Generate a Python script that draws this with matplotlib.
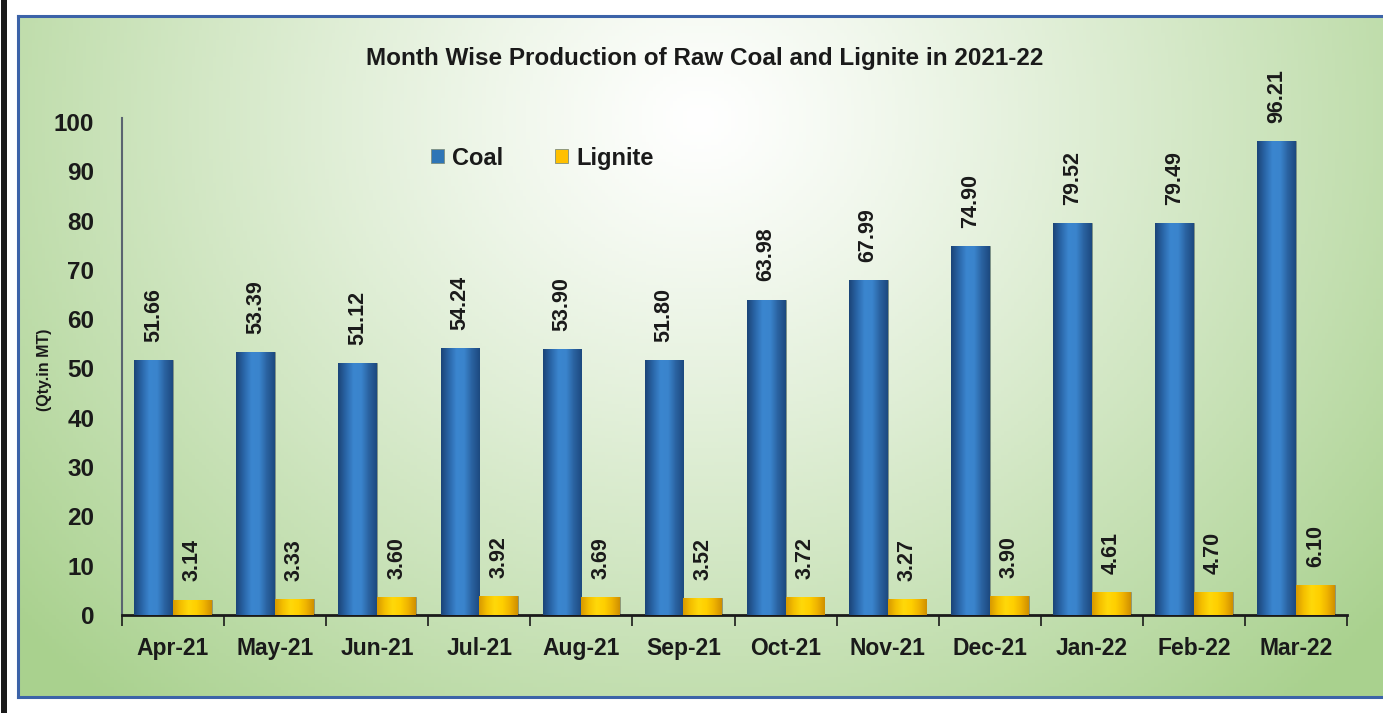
import numpy as np
import matplotlib
matplotlib.use("Agg")
import matplotlib.pyplot as plt
from matplotlib.colors import LinearSegmentedColormap, to_rgb
from matplotlib.patches import Rectangle

plt.rcParams['font.family'] = ['Liberation Sans', 'DejaVu Sans']
plt.rcParams['font.weight'] = 'bold'

months = ["Apr-21", "May-21", "Jun-21", "Jul-21", "Aug-21", "Sep-21",
          "Oct-21", "Nov-21", "Dec-21", "Jan-22", "Feb-22", "Mar-22"]
coal = [51.66, 53.39, 51.12, 54.24, 53.90, 51.80, 63.98, 67.99, 74.90, 79.52, 79.49, 96.21]
lignite = [3.14, 3.33, 3.60, 3.92, 3.69, 3.52, 3.72, 3.27, 3.90, 4.61, 4.70, 6.10]
y_ticks = [0, 10, 20, 30, 40, 50, 60, 70, 80, 90, 100]

W, H = 1383, 713
fig = plt.figure(figsize=(W / 100, H / 100), dpi=100)
fig.patch.set_facecolor("white")

# black strip on the far left
fig.patches.append(Rectangle((1 / W, 0), 6 / W, 1, transform=fig.transFigure,
                             facecolor="#1a1a1a", edgecolor="none", zorder=0))

# framed box with radial green gradient
bx0, by0, bx1, by1 = 18 / W, 1 - 697 / H, 1.0, 1 - 16 / H
bg = fig.add_axes([bx0, by0, bx1 - bx0, by1 - by0], zorder=0)
nx, ny = 400, 200
xx, yy = np.meshgrid(np.linspace(0, 1, nx), np.linspace(0, 1, ny))
r = np.sqrt(((xx - 0.50) / 0.66) ** 2 + ((yy - 0.15) / 1.15) ** 2)
r = np.clip(r, 0, 1) ** 1.15
c_in = np.array(to_rgb("#ffffff"))
c_out = np.array(to_rgb("#a9d18e"))
img = c_in[None, None, :] * (1 - r[..., None]) + c_out[None, None, :] * r[..., None]
bg.imshow(img, aspect="auto", extent=[0, 1, 1, 0], origin="upper")
bg.set_xlim(0, 1)
bg.set_ylim(1, 0)
bg.set_xticks([])
bg.set_yticks([])
for s in bg.spines.values():
    s.set_color("#3c63a8")
    s.set_linewidth(2.2)
bg.spines["right"].set_visible(False)

ax = fig.add_axes([122 / W, 1 - 615 / H, (1347 - 122) / W, (615 - 118) / H], zorder=1)
ax.patch.set_alpha(0)

x = np.arange(len(months))
w = 0.38
b1 = ax.bar(x - w / 2, coal, w, color="#2e75b6", label="Coal", zorder=2)
b2 = ax.bar(x + w / 2, lignite, w, color="#ffc000", label="Lignite", zorder=2)

coal_cmap = LinearSegmentedColormap.from_list(
    "coal", ["#1b4478", "#2a66a8", "#3b86cf", "#3a84cc", "#2a62a0", "#1d4a80"])
lig_cmap = LinearSegmentedColormap.from_list(
    "lig", ["#d89a00", "#f5c000", "#ffd80a", "#ffd000", "#f0b400", "#d09000"])
grad = np.linspace(0, 1, 64).reshape(1, -1)
for bars, cm in ((b1, coal_cmap), (b2, lig_cmap)):
    for p in bars:
        x0, y0 = p.get_x(), p.get_y()
        im = ax.imshow(grad, cmap=cm, aspect="auto", zorder=3,
                       extent=[x0, x0 + p.get_width(), y0, y0 + p.get_height()])
        im.set_clip_path(p)
        p.set_edgecolor("#7f8f7f")
        p.set_linewidth(0.6)

for bars, vals in ((b1, coal), (b2, lignite)):
    for p, v in zip(bars, vals):
        ax.annotate(f"{v:.2f}", (p.get_x() + p.get_width() / 2, p.get_height()),
                    xytext=(0, 13), textcoords="offset points", rotation=90,
                    ha="center", va="bottom", fontsize=15.5, fontweight="bold",
                    color="#1a1a1a", zorder=4)

ax.set_xlim(-0.5, len(months) - 0.5)
ax.set_ylim(0, 100.8)
ax.set_yticks(y_ticks)
ax.set_yticklabels([str(t) for t in y_ticks], fontsize=17.5, fontweight="bold", color="#1a1a1a")
ax.tick_params(axis="y", length=0, pad=20)
ax.set_xticks(np.arange(-0.5, len(months), 1.0))
ax.set_xticklabels([])
ax.set_xticks(x, minor=True)
ax.set_xticklabels(months, minor=True, fontsize=16.5, fontweight="bold", color="#1a1a1a")
ax.tick_params(axis="x", which="major", length=8, width=1.2, direction="out", color="#1a1a1a")
ax.tick_params(axis="x", which="minor", length=0, pad=16)
ax.spines["top"].set_visible(False)
ax.spines["right"].set_visible(False)
ax.spines["left"].set_color("#5a6470")
ax.spines["left"].set_linewidth(1.5)
ax.spines["bottom"].set_color("#1a1a1a")
ax.spines["bottom"].set_linewidth(2)

fig.text(45 / W, 1 - 370 / H, "(Qty.in MT)", rotation=90, ha="center", va="center",
         fontsize=11.5, fontweight="bold", color="#1a1a1a")

leg = ax.legend(loc="upper left", bbox_to_anchor=(0.235, 0.985), ncol=2, frameon=False,
                fontsize=17, handlelength=0.55, handleheight=0.55, columnspacing=2.2,
                handletextpad=0.35)
for t in leg.get_texts():
    t.set_fontweight("bold")
    t.set_color("#1a1a1a")

fig.text(705 / W, 1 - 58 / H, "Month Wise Production of Raw Coal and Lignite in 2021-22",
         ha="center", va="center", fontsize=17.5, fontweight="bold", color="#1a1a1a")

fig.savefig("out.png", dpi=100)
